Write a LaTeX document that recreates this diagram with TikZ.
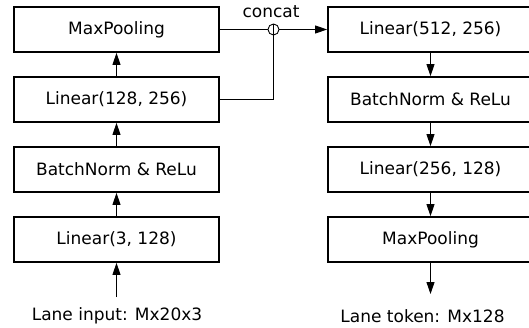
\documentclass[tikz,border=0pt]{standalone}
\usepackage{fontspec}
\setmainfont{DejaVu Sans}
\usetikzlibrary{arrows.meta}
\begin{document}
\begin{tikzpicture}[x=1pt,y=-1pt,
  font=\fontsize{17}{20}\selectfont,
  box/.style={draw,line width=1.8pt,minimum width=205pt,minimum height=45pt,inner sep=0pt},
  conn/.style={line width=0.9pt},
  arr/.style={conn,-{Triangle[length=12pt,width=8pt]}}]
\useasboundingbox (0,0) rectangle (529,328);
\node[box] (l4) at (116.5,29.5) {MaxPooling};
\node[box] (l3) at (116.5,99.5) {Linear(128, 256)};
\node[box] (l2) at (116.5,169.5) {BatchNorm \& ReLu};
\node[box] (l1) at (116.5,239.5) {Linear(3, 128)};
\node[box] (r1) at (430.5,29.5) {Linear(512, 256)};
\node[box] (r2) at (430.5,99.5) {BatchNorm \& ReLu};
\node[box] (r3) at (430.5,169.5) {Linear(256, 128)};
\node[box] (r4) at (430.5,239.5) {MaxPooling};
\node[circle,draw,conn,minimum size=11pt,inner sep=0pt] (cc) at (273.5,29.5) {};
\draw[conn] (cc.north) -- (cc.south);
\node (ct) at (271,12) {concat};
\coordinate (in) at (116.5,297);
\coordinate (out) at (430.5,294);
\node (inl) at (117,316) {Lane input: Mx20x3};
\node (outl) at (422.5,316) {Lane token: Mx128};
\draw[arr] (in) -- (l1.south);
\draw[arr] (l1.north) -- (l2.south);
\draw[arr] (l2.north) -- (l3.south);
\draw[arr] (l3.north) -- (l4.south);
\draw[conn] (l4.east) -- (cc.west);
\draw[arr] (cc.east) -- (r1.west);
\draw[conn] (l3.east) -| (cc.south);
\draw[arr] (r1.south) -- (r2.north);
\draw[arr] (r2.south) -- (r3.north);
\draw[arr] (r3.south) -- (r4.north);
\draw[arr] (r4.south) -- (out);
\end{tikzpicture}
\end{document}
